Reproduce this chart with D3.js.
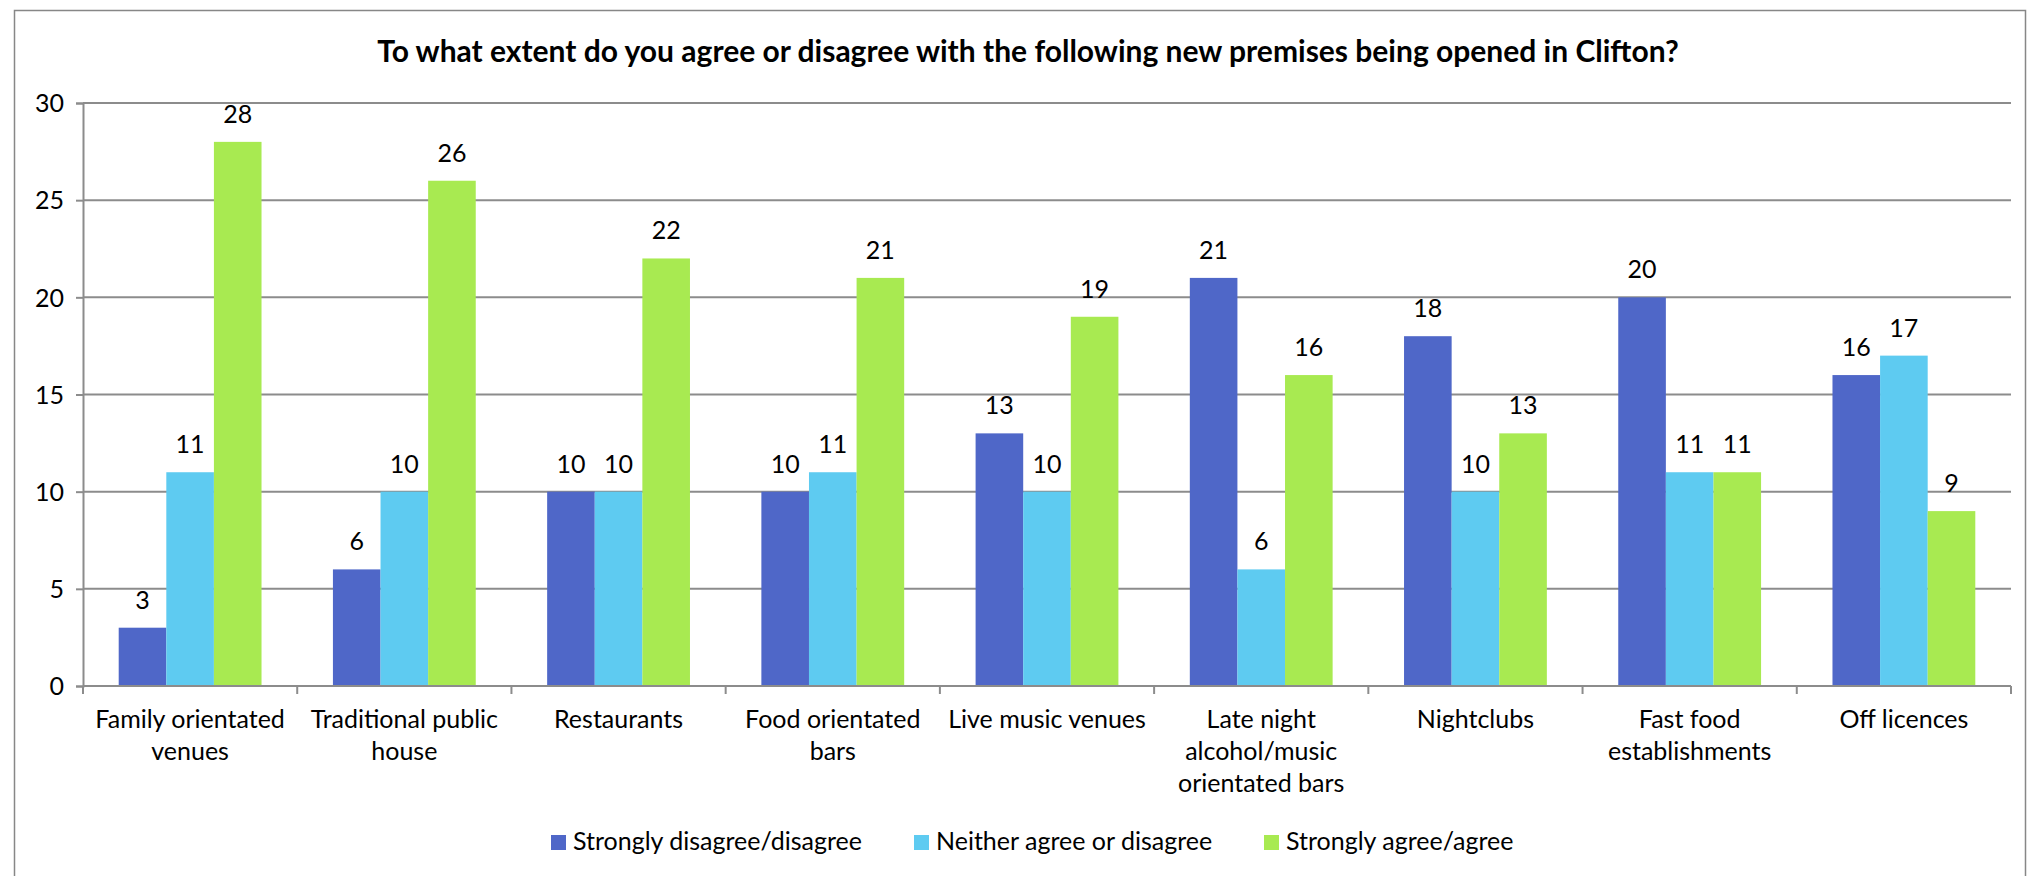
<!DOCTYPE html>
<html>
<head>
<meta charset="utf-8">
<script src="https://cdn.jsdelivr.net/npm/d3@7/dist/d3.min.js"></script>
<style>
  body { margin: 0; background: #fff; }
  text { font-family: Lato, "Open Sans", sans-serif; fill: #000; }
</style>
</head>
<body>
<div id="chart"></div>
<script>
const WIDTH = 2027;
const HEIGHT = 876;
const MARGIN = { TOP: 103, LEFT: 83, RIGHT: 16, BOTTOM: 190 };

const TITLE = 'To what extent do you agree or disagree with the following new premises being opened in Clifton?';

const categories = [
  'Family orientated venues', 'Traditional public house', 'Restaurants',
  'Food orientated bars', 'Live music venues', 'Late night alcohol/music orientated bars',
  'Nightclubs', 'Fast food establishments', 'Off licences'
];
// line breaks as they appear under the axis
const categoryLines = [
  ['Family orientated', 'venues'], ['Traditional public', 'house'], ['Restaurants'],
  ['Food orientated', 'bars'], ['Live music venues'], ['Late night', 'alcohol/music', 'orientated bars'],
  ['Nightclubs'], ['Fast food', 'establishments'], ['Off licences']
];

const seriesNames = ['Strongly disagree/disagree', 'Neither agree or disagree', 'Strongly agree/agree'];
const disagree = [3, 6, 10, 10, 13, 21, 18, 20, 16];
const neither  = [11, 10, 10, 11, 10, 6, 10, 11, 17];
const agree    = [28, 26, 22, 21, 19, 16, 13, 11, 9];
const seriesColors = ['#4f67c8', '#5ecbf1', '#a8ea51'];

const yTicks = [0, 5, 10, 15, 20, 25, 30];

const plotW = WIDTH - MARGIN.LEFT - MARGIN.RIGHT;
const plotH = 686 - MARGIN.TOP;

const svg = d3.select('#chart').append('svg')
  .attr('width', WIDTH)
  .attr('height', HEIGHT);

// outer chart border
svg.append('rect')
  .attr('x', 14.5).attr('y', 10.5)
  .attr('width', WIDTH - 16).attr('height', HEIGHT + 20)
  .attr('fill', 'none')
  .attr('stroke', '#878787')
  .attr('stroke-width', 1.5);

svg.append('text')
  .attr('x', 1028)
  .attr('y', 62)
  .attr('text-anchor', 'middle')
  .style('font-weight', 'bold')
  .style('font-size', '30px')
  .text(TITLE);

const g = svg.append('g')
  .attr('transform', `translate(${MARGIN.LEFT}, ${MARGIN.TOP})`);

const x0 = d3.scaleBand().domain(categories).range([0, plotW]).paddingInner(0).paddingOuter(0);
const x1 = d3.scaleBand().domain(seriesNames).range([x0.bandwidth() / 6, x0.bandwidth() * 5 / 6]);
const y = d3.scaleLinear().domain([0, 30]).range([plotH, 0]);

// gridlines
g.append('g').selectAll('line')
  .data(yTicks.slice(1))
  .enter().append('line')
  .attr('x1', 0).attr('x2', plotW)
  .attr('y1', d => y(d)).attr('y2', d => y(d))
  .attr('stroke', '#8c8c8c')
  .attr('stroke-width', 2);

// y axis
const yAxis = g.append('g')
  .call(d3.axisLeft(y).tickValues(yTicks).tickSize(7).tickPadding(12));
yAxis.select('.domain').attr('stroke', '#8c8c8c').attr('stroke-width', 2);
yAxis.selectAll('.tick line').attr('stroke', '#8c8c8c').attr('stroke-width', 2);
yAxis.selectAll('.tick text').style('font-size', '25px').attr('dy', '0.35em');

const table = categories.map((c, i) => ({ cat: c, values: [disagree[i], neither[i], agree[i]] }));

const groups = g.append('g').selectAll('g')
  .data(table)
  .enter().append('g')
  .attr('transform', d => `translate(${x0(d.cat)}, 0)`);

groups.selectAll('rect')
  .data(d => d.values.map((v, k) => ({ key: seriesNames[k], value: v, k: k })))
  .enter().append('rect')
  .attr('x', d => x1(d.key))
  .attr('y', d => y(d.value))
  .attr('width', x1.bandwidth())
  .attr('height', d => y(0) - y(d.value))
  .attr('fill', d => seriesColors[d.k]);

groups.selectAll('text.value')
  .data(d => d.values.map((v, k) => ({ key: seriesNames[k], value: v })))
  .enter().append('text')
  .attr('class', 'value')
  .attr('x', d => x1(d.key) + x1.bandwidth() / 2)
  .attr('y', d => y(d.value) - 19)
  .attr('text-anchor', 'middle')
  .style('font-size', '25px')
  .text(d => d.value);

// x axis
const xAxis = g.append('g')
  .attr('transform', `translate(0, ${plotH})`);
xAxis.append('line')
  .attr('x1', 0).attr('x2', plotW)
  .attr('stroke', '#8c8c8c').attr('stroke-width', 2);
xAxis.selectAll('line.tick')
  .data(d3.range(categories.length + 1))
  .enter().append('line')
  .attr('class', 'tick')
  .attr('x1', i => i * x0.step()).attr('x2', i => i * x0.step())
  .attr('y1', 0).attr('y2', 8)
  .attr('stroke', '#8c8c8c').attr('stroke-width', 2);

xAxis.selectAll('text.cat')
  .data(categories)
  .enter().append('text')
  .attr('class', 'cat')
  .attr('x', d => x0(d) + x0.bandwidth() / 2)
  .attr('text-anchor', 'middle')
  .style('font-size', '25px')
  .each(function (d, i) {
    d3.select(this).selectAll('tspan')
      .data(categoryLines[i])
      .enter().append('tspan')
      .attr('x', x0(d) + x0.bandwidth() / 2)
      .attr('y', (l, j) => 42 + j * 32)
      .text(l => l);
  });

// legend
const legendX = [551, 914, 1264];
const legend = svg.append('g').selectAll('g')
  .data(seriesNames)
  .enter().append('g')
  .attr('transform', (d, i) => `translate(${legendX[i]}, 835)`);
legend.append('rect')
  .attr('width', 15).attr('height', 15)
  .attr('fill', (d, i) => seriesColors[i]);
legend.append('text')
  .attr('x', 22).attr('y', 15)
  .style('font-size', '25px')
  .text(d => d);
</script>
</body>
</html>
